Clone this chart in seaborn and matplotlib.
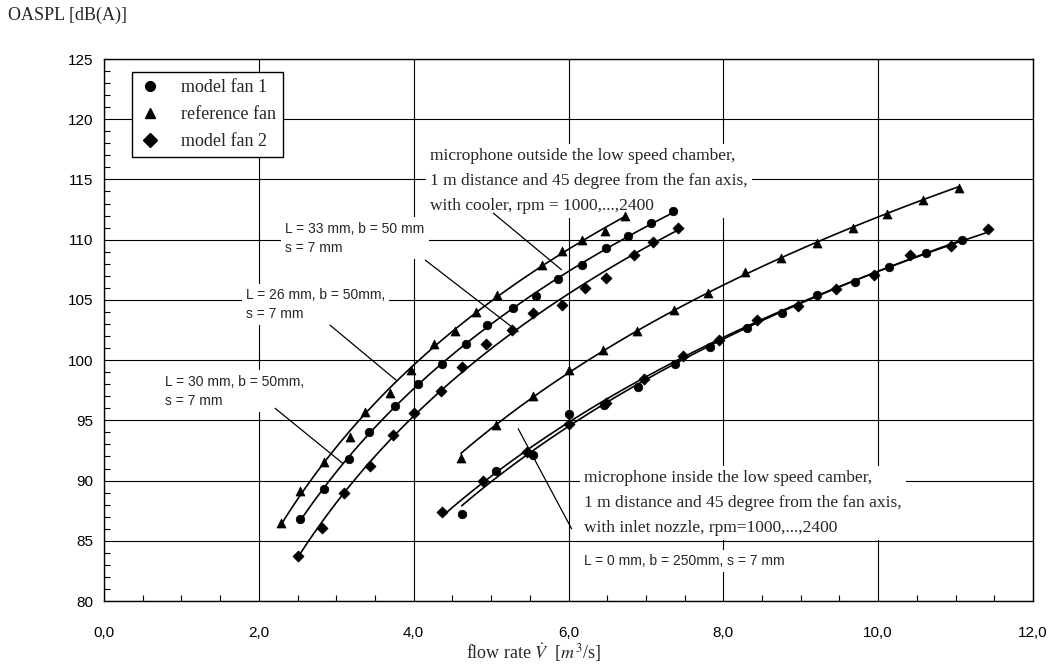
import numpy as np
import pandas as pd
import seaborn as sns
import matplotlib.pyplot as plt
from matplotlib.lines import Line2D
from matplotlib.ticker import MultipleLocator, FuncFormatter

# --- data: flow rate [m^3/s] vs OASPL [dB(A)] ---
# microphone outside the low speed chamber (left group)
ref_out_x = [2.29, 2.53, 2.84, 3.18, 3.37, 3.70, 3.97, 4.26, 4.54, 4.80, 5.08, 5.66, 5.91, 6.17, 6.47, 6.73]
ref_out_y = [86.5, 89.1, 91.5, 93.6, 95.7, 97.3, 99.2, 101.3, 102.4, 104.0, 105.4, 107.9, 109.1, 110.0, 110.7, 112.0]
fan1_out_x = [2.53, 2.84, 3.17, 3.42, 3.76, 4.06, 4.36, 4.67, 4.95, 5.28, 5.58, 5.87, 6.17, 6.49, 6.77, 7.06, 7.35]
fan1_out_y = [86.8, 89.3, 91.8, 94.0, 96.2, 98.0, 99.7, 101.3, 102.9, 104.3, 105.3, 106.7, 107.9, 109.3, 110.3, 111.4, 112.4]
fan2_out_x = [2.50, 2.82, 3.10, 3.44, 3.73, 4.00, 4.35, 4.63, 4.94, 5.27, 5.54, 5.91, 6.21, 6.49, 6.85, 7.09, 7.41]
fan2_out_y = [83.7, 86.1, 89.0, 91.2, 93.8, 95.6, 97.4, 99.4, 101.3, 102.5, 103.9, 104.6, 106.0, 106.8, 108.7, 109.8, 111.0]

# microphone inside the low speed chamber (right group)
ref_in_x = [4.61, 5.06, 5.54, 6.00, 6.44, 6.88, 7.36, 7.80, 8.28, 8.74, 9.21, 9.68, 10.12, 10.58, 11.04]
ref_in_y = [91.9, 94.6, 97.0, 99.2, 100.8, 102.4, 104.2, 105.6, 107.3, 108.5, 109.7, 111.0, 112.1, 113.3, 114.3]
fan1_in_x = [4.62, 5.06, 5.54, 6.00, 6.46, 6.90, 7.38, 7.83, 8.31, 8.76, 9.21, 9.70, 10.14, 10.62, 11.08]
fan1_in_y = [87.2, 90.8, 92.1, 95.5, 96.3, 97.8, 99.7, 101.1, 102.7, 103.9, 105.4, 106.5, 107.7, 108.9, 110.0]
fan2_in_x = [4.37, 4.90, 5.47, 6.00, 6.49, 6.98, 7.48, 7.94, 8.44, 8.97, 9.45, 9.95, 10.41, 10.94, 11.42]
fan2_in_y = [87.4, 90.0, 92.4, 94.7, 96.4, 98.4, 100.3, 101.7, 103.3, 104.5, 105.9, 107.1, 108.7, 109.5, 110.9]

fan_names = ["model fan 1", "reference fan", "model fan 2"]
fan_markers = {"model fan 1": "o", "reference fan": "^", "model fan 2": "D"}
fan_sizes = {"model fan 1": 38, "reference fan": 42, "model fan 2": 32}

series = [
    ("reference fan", ref_out_x, ref_out_y),
    ("model fan 1", fan1_out_x, fan1_out_y),
    ("model fan 2", fan2_out_x, fan2_out_y),
    ("reference fan", ref_in_x, ref_in_y),
    ("model fan 1", fan1_in_x, fan1_in_y),
    ("model fan 2", fan2_in_x, fan2_in_y),
]

sns.set_theme(style="white")
plt.rcParams["font.family"] = ["Liberation Sans", "DejaVu Sans"]
plt.rcParams["mathtext.fontset"] = "stix"
SERIF = ["Liberation Serif", "DejaVu Serif"]

fig = plt.figure(figsize=(10.57, 6.70), dpi=100)
ax = fig.add_axes([104 / 1057, 1 - 601 / 670, (1033 - 104) / 1057, (601 - 59) / 670])

for fan, xs, ys in series:
    df = pd.DataFrame({"x": xs, "y": ys})
    # fitted trend curve (log fit) like the original
    sns.regplot(data=df, x="x", y="y", logx=True, ci=None, scatter=False, color="black",
                line_kws={"lw": 1.2, "zorder": 3}, ax=ax)
    sns.scatterplot(data=df, x="x", y="y", marker=fan_markers[fan], s=fan_sizes[fan],
                    color="black", edgecolor="black", linewidth=0.5, zorder=4, ax=ax, legend=False)

ax.set_xlim(0, 12)
ax.set_ylim(80, 125)
ax.xaxis.set_major_locator(MultipleLocator(2))
ax.xaxis.set_minor_locator(MultipleLocator(0.5))
ax.yaxis.set_major_locator(MultipleLocator(5))
ax.yaxis.set_minor_locator(MultipleLocator(1))
ax.xaxis.set_major_formatter(FuncFormatter(lambda v, p: f"{v:.1f}".replace(".", ",")))
ax.tick_params(which="major", length=0, labelsize=11, pad=18, colors="black")
ax.tick_params(axis="y", which="major", pad=8)
ax.tick_params(which="minor", direction="in", length=4, width=0.8, color="black",
               bottom=True, left=True)
ax.grid(True, which="major", color="black", lw=0.8)
ax.set_axisbelow(True)
for s in ax.spines.values():
    s.set_color("black")
    s.set_linewidth(1.0)
ax.set_xlabel("")
ax.set_ylabel("")

box = dict(facecolor="white", edgecolor="none", pad=3)
ax.text(4.21, 117.6, "microphone outside the low speed chamber,\n1 m distance and 45 degree from the fan axis,\n"
        "with cooler, rpm = 1000,...,2400", family=SERIF, fontsize=12.5, va="top", ha="left",
        linespacing=1.75, bbox=box, zorder=2)
ax.text(6.20, 90.9, "microphone inside the low speed camber,\n1 m distance and 45 degree from the fan axis,\n"
        "with inlet nozzle, rpm=1000,...,2400", family=SERIF, fontsize=12.5, va="top", ha="left",
        linespacing=1.75, bbox=box, zorder=2)
ax.text(6.20, 83.9, "L = 0 mm, b = 250mm, s = 7 mm", fontsize=10, va="top", ha="left", bbox=box, zorder=2)
ax.text(2.34, 111.5, "L = 33 mm, b = 50 mm\ns = 7 mm", fontsize=10, va="top", ha="left",
        linespacing=1.45, bbox=box, zorder=2)
ax.text(1.83, 106.0, "L = 26 mm, b = 50mm,\ns = 7 mm", fontsize=10, va="top", ha="left",
        linespacing=1.45, bbox=box, zorder=2)
ax.text(0.79, 98.8, "L = 30 mm, b = 50mm,\ns = 7 mm", fontsize=10, va="top", ha="left",
        linespacing=1.45, bbox=box, zorder=2)

# leader lines from the annotations to the curves
leaders = [((5.03, 112.2), (5.91, 107.5)),
           ((4.15, 108.3), (5.35, 102.35)),
           ((2.92, 102.9), (3.78, 98.3)),
           ((2.21, 96.0), (3.09, 91.4)),
           ((6.04, 86.0), (5.35, 94.3))]
for start, end in leaders:
    ax.annotate("", xy=end, xytext=start,
                arrowprops=dict(arrowstyle="-", color="black", lw=0.9, shrinkA=0, shrinkB=0), zorder=3)

handles = [Line2D([], [], ls="", marker=fan_markers[f], color="black", markersize=7) for f in fan_names]
leg = ax.legend(handles, fan_names, loc="upper left", bbox_to_anchor=(0.030, 0.976), borderaxespad=0,
                frameon=True, fancybox=False, framealpha=1, edgecolor="black",
                prop={"family": SERIF, "size": 13}, handlelength=1.2, handletextpad=1.1,
                labelspacing=0.55, borderpad=0.4)
leg.get_frame().set_linewidth(1.0)

fig.text(8 / 1057, 1 - 15 / 670, "OASPL [dB(A)]", family=SERIF, fontsize=13, va="center", ha="left")
fig.text(533 / 1057, 1 - 653 / 670, r"flow rate $\dot{V}$  [$m^3$/s]", family=SERIF, fontsize=13,
         va="center", ha="center")

fig.savefig("out.png", dpi=100)
